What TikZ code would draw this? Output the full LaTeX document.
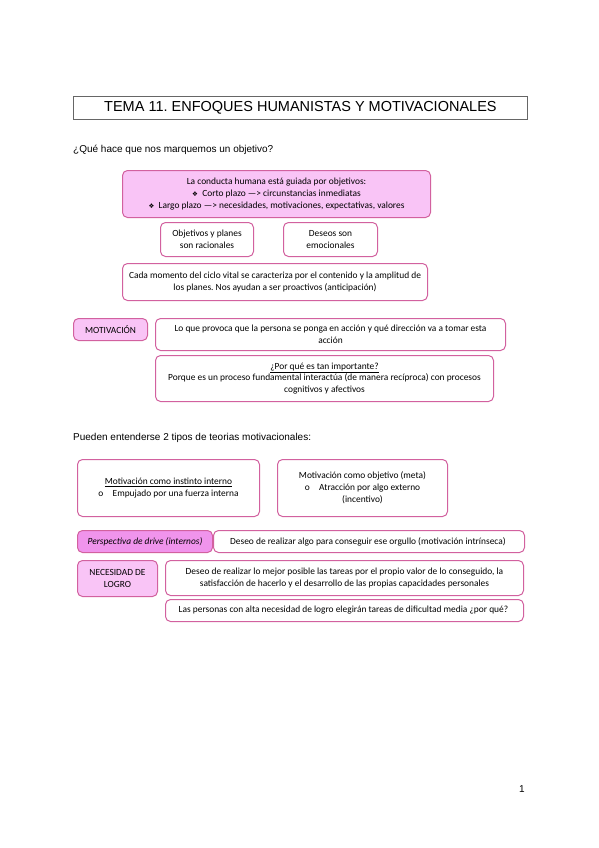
\documentclass[tikz,border=0pt]{standalone}
\usepackage{fontspec}
\setmainfont{Liberation Sans}
\newfontfamily\carlito{Carlito}
\newfontfamily\symbolos{DejaVu Sans}
\usepackage{tikz}
\usetikzlibrary{shapes, calc, positioning}

\definecolor{rosa}{HTML}{F9C4F6}
\definecolor{rosafuerte}{HTML}{F094EC}
\definecolor{borde}{HTML}{D2619F}

\newcommand{\vineta}{{\symbolos\fontsize{6.5}{7}\selectfont ❖}\ \ }
\frenchspacing

\begin{document}
\begin{tikzpicture}[x=1pt, y=-1pt]
		\tikzstyle{caja}=[rectangle, draw=borde, line width=1pt, rounded corners=5pt, anchor=north west, inner sep=2pt, align=center, font=\carlito\fontsize{9.4}{11.8}\selectfont]
		\tikzstyle{relleno}=[caja, fill=rosa]
		\tikzstyle{texto}=[anchor=west, inner sep=0pt, font=\fontsize{10}{11}\selectfont]

		\useasboundingbox[fill=white] (0,0) rectangle (599,848);

		\node[rectangle, draw=black!60, line width=0.8pt, anchor=north west, minimum width=454pt, minimum height=23pt, inner sep=0pt, font=\fontsize{14.5}{16}\selectfont] (titulo) at (73,96) {TEMA 11. ENFOQUES HUMANISTAS Y MOTIVACIONALES};

		\node[texto] (pregunta) at (73,150) {¿Qué hace que nos marquemos un objetivo?};

		\node[relleno, minimum width=308pt, minimum height=47pt] (conducta) at (122,170) {
			La conducta humana está guiada por objetivos:\\
			\vineta Corto plazo —> circunstancias inmediatas\\
			\vineta Largo plazo —> necesidades, motivaciones, expectativas, valores
		};

		\node[caja, minimum width=93pt, minimum height=34pt] (racionales) at (160,222) {Objetivos y planes\\son racionales};
		\node[caja, minimum width=94pt, minimum height=34pt] (emocionales) at (283,222) {Deseos son\\emocionales};

		\node[caja, minimum width=305pt, minimum height=37pt] (ciclo) at (122,263) {
			Cada momento del ciclo vital se caracteriza por el contenido y la amplitud de\\
			los planes. Nos ayudan a ser proactivos (anticipación)
		};

		\node[relleno, minimum width=74pt, minimum height=22pt] (motivacion) at (73,318) {MOTIVACIÓN};
		\node[caja, minimum width=350pt, minimum height=32pt] (accion) at (155,318) {
			Lo que provoca que la persona se ponga en acción y qué dirección va a tomar esta\\
			acción
		};
		\node[caja, minimum width=338pt, minimum height=46pt] (importante) at (155,355) {
			\underline{¿Por qué es tan importante?}\\
			Porque es un proceso fundamental interactúa (de manera recíproca) con procesos\\
			cognitivos y afectivos
		};

		\node[texto] (tipos) at (73,438) {Pueden entenderse 2 tipos de teorias motivacionales:};

		\node[caja, minimum width=182pt, minimum height=57pt] (instinto) at (77,459) {
			\underline{Motivación como instinto interno}\\
			o\quad Empujado por una fuerza interna
		};
		\node[caja, minimum width=170pt, minimum height=57pt] (meta) at (277,459) {
			Motivación como objetivo (meta)\\
			o\quad Atracción por algo externo\\
			(incentivo)
		};

		\node[caja, fill=rosafuerte, minimum width=135pt, minimum height=22pt] (drive) at (77,530) {\itshape Perspectiva de drive (internos)};
		\node[caja, minimum width=311pt, minimum height=22pt, right=0pt of drive.north east, anchor=north west] (orgullo) {
			Deseo de realizar algo para conseguir ese orgullo (motivación intrínseca)
		};

		\node[relleno, minimum width=80pt, minimum height=36pt] (logro) at (77,560) {NECESIDAD DE\\LOGRO};
		\node[caja, minimum width=358pt, minimum height=35pt] (mejor) at (165,560) {
			Deseo de realizar lo mejor posible las tareas por el propio valor de lo conseguido, la\\
			satisfacción de hacerlo y el desarrollo de las propias capacidades personales
		};
		\node[caja, minimum width=358pt, minimum height=22pt, below=3pt of mejor.south west, anchor=north west] (media) {
			Las personas con alta necesidad de logro elegirán tareas de dificultad media ¿por qué?
		};

		\node[inner sep=0pt, font=\fontsize{10}{11}\selectfont] (pagina) at (522,789) {1};

	\end{tikzpicture}
\end{document}
